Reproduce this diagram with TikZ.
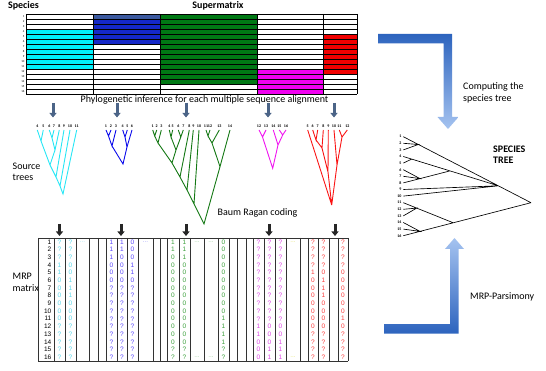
\documentclass[tikz,border=0pt]{standalone}
\usepackage{fontspec}
\setmainfont{Carlito}
\newfontfamily\cellfont{Liberation Sans}
\usetikzlibrary{arrows.meta}

\definecolor{cyantree}{RGB}{40,230,245}
\definecolor{bluetree}{RGB}{10,10,235}
\definecolor{greentree}{RGB}{20,120,20}
\definecolor{magtree}{RGB}{240,20,240}
\definecolor{redtree}{RGB}{250,20,20}
\definecolor{cyanblock}{RGB}{0,240,250}
\definecolor{blueblock}{RGB}{20,40,200}
\definecolor{steelblock}{RGB}{60,90,160}
\definecolor{greenblock}{RGB}{0,120,20}
\definecolor{magblock}{RGB}{240,0,240}
\definecolor{redblock}{RGB}{240,0,0}
\definecolor{cyandigit}{RGB}{90,215,235}
\definecolor{bluedigit}{RGB}{90,70,250}
\definecolor{greendigit}{RGB}{60,160,60}
\definecolor{magdigit}{RGB}{220,70,230}
\definecolor{reddigit}{RGB}{250,60,60}
\definecolor{cyandots}{RGB}{170,230,245}
\definecolor{bluedots}{RGB}{160,160,250}
\definecolor{greendots}{RGB}{160,210,160}
\definecolor{yellowdots}{RGB}{230,230,120}
\definecolor{arrowdark}{RGB}{45,100,190}
\definecolor{arrowlight}{RGB}{165,195,240}
\definecolor{smallarrow}{RGB}{75,100,135}

\tikzset{
  title/.style={font=\fontsize{10}{11.5}\selectfont\bfseries,inner sep=0pt,align=left},
  caption/.style={font=\fontsize{10}{11.5}\selectfont,inner sep=0pt,align=left},
  leaf/.style={font=\fontsize{4}{4}\selectfont\bfseries,inner sep=0pt},
  rowlab/.style={font=\fontsize{3}{3}\selectfont,inner sep=0pt,anchor=east},
  cell/.style={font=\cellfont\fontsize{6.5}{7}\selectfont,inner sep=0pt},
  branch/.style={line width=0.9pt},
  sbranch/.style={line width=0.65pt},
  gridline/.style={line width=0.55pt,draw=black!80},
  down/.style={line width=3pt,-{Triangle[width=7pt,length=4.5pt]}},
}

% one column of the MRP matrix: name, x, colour, values
\newcommand{\mrpcolumn}[4]{%
  \foreach \v [count=\r] in {#4}
    \node[cell,text=#3] (#1-\r) at (#2,{234.15+7.69*\r}) {\v};}

\begin{document}
\begin{tikzpicture}[x=1pt,y=-1pt]
\useasboundingbox (0,0) rectangle (546,371);

% titles
\node[title] (species) at (23.5,6) {Species};
\node[title] (supermatrix) at (218,6) {Supermatrix};
\node[caption] (phylo) at (204.5,100) {Phylogenetic inference for each multiple sequence alignment};
\node[caption,anchor=west] (source) at (12.5,171.6) {Source\\trees};
\node[caption] (baum) at (257.5,213.3) {Baum Ragan coding};
\node[caption,anchor=west] (mrp) at (12.5,282.5) {MRP\\matrix};
\node[caption,anchor=west] (computing) at (463,92.8) {Computing the\\species tree};
\node[title,anchor=west] (sptree) at (493,154.5) {SPECIES\\TREE};
\node[caption,anchor=west] (parsimony) at (470,296.7) {MRP-Parsimony};

% supermatrix
\fill[cyanblock] (26,29) rectangle (93,69);
\fill[blueblock] (93,14) rectangle (160,44);
\fill[steelblock] (93,14) rectangle (160,19);
\fill[greenblock] (160,14) rectangle (257,84);
\fill[magblock] (257,69) rectangle (323,94);
\fill[redblock] (323,34) rectangle (357,74);
\foreach \i in {0,...,16}
  \draw[line width=0.7pt] (26,{14+5*\i}) -- (357,{14+5*\i});
\foreach \x in {26,93,160,257,323,357}
  \draw[line width=0.7pt] (\x,14) -- (\x,94);
\foreach \i in {1,...,16}
  \node[rowlab] (sm\i) at (24.5,{11.5+5*\i}) {\i};

% arrows down to the source trees
\foreach \x [count=\k] in {53,117,186,268,334}{
  \coordinate (ta\k) at (\x,103);
  \coordinate (tb\k) at (\x,117.5);
  \draw[down,smallarrow] (ta\k) -- (tb\k);
}

% cyan source tree
\foreach \n/\x in {4/37.3,5/43.3,6/49.3,7/54,8/59.3,9/64,10/70,11/76.7}{
  \node[leaf] (cl\n) at (\x,126.5) {\n};
  \coordinate (ct\n) at (\x,130);
}
\coordinate (c45) at (41,141);
\coordinate (c67) at (52,138);
\coordinate (c68) at (55,150);
\coordinate (c48) at (50,165);
\coordinate (c49) at (56,177);
\coordinate (c410) at (60,186);
\coordinate (croot) at (63,194);
\draw[branch,cyantree] (ct4)--(c45)--(ct5) (ct6)--(c67)--(ct7) (c67)--(c68)--(ct8)
  (c45)--(c48)--(c68) (c48)--(c49)--(ct9) (c49)--(c410)--(ct10) (c410)--(croot)--(ct11);

% blue source tree
\foreach \n/\x in {1/106,2/111,3/116,4/122.7,5/127.3,6/132}{
  \node[leaf] (bl\n) at (\x,126.5) {\n};
  \coordinate (bt\n) at (\x,130);
}
\coordinate (b12) at (108.5,136);
\coordinate (b13) at (112,146);
\coordinate (b45) at (125,137);
\coordinate (b46) at (127,147);
\coordinate (broot) at (123,164);
\draw[branch,bluetree] (bt1)--(b12)--(bt2) (b12)--(b13)--(bt3) (bt4)--(b45)--(bt5)
  (b45)--(b46)--(bt6) (b13)--(broot)--(b46);

% green source tree
\foreach \n/\x in {1/152.7,2/156.7,3/161.3,4/169.3,5/172.7,6/178.3,7/183.3,8/189.3,9/193.3,10/199,11/206,12/210,13/219.3,14/230}{
  \node[leaf] (gl\n) at (\x,126.5) {\n};
  \coordinate (gt\n) at (\x,130);
}
\coordinate (g12) at (154.7,136);
\coordinate (g13) at (158,143);
\coordinate (g45) at (171,137);
\coordinate (g67) at (180.8,137);
\coordinate (g47) at (176,150);
\coordinate (g17) at (172,163);
\coordinate (g18) at (180,177);
\coordinate (g19) at (187,190);
\coordinate (g110) at (194,204);
\coordinate (g1112) at (208,136);
\coordinate (g1113) at (212,143);
\coordinate (g1114) at (220,166.7);
\coordinate (groot) at (204,224);
\draw[branch,greentree] (gt1)--(g12)--(gt2) (g12)--(g13)--(gt3) (gt4)--(g45)--(gt5)
  (gt6)--(g67)--(gt7) (g45)--(g47)--(g67) (g13)--(g17)--(g47) (g17)--(g18)--(gt8)
  (g18)--(g19)--(gt9) (g19)--(g110)--(gt10) (gt11)--(g1112)--(gt12)
  (g1112)--(g1113)--(gt13) (g1113)--(g1114)--(gt14) (g110)--(groot)--(g1114);

% magenta source tree
\foreach \n/\x in {12/259,13/266,14/273.3,15/279.3,16/286}{
  \node[leaf] (ml\n) at (\x,126.5) {\n};
  \coordinate (mt\n) at (\x,130);
}
\coordinate (m1213) at (262.5,137);
\coordinate (m1516) at (282.7,135);
\coordinate (m1416) at (278,145);
\coordinate (mroot) at (272.7,168.3);
\draw[branch,magtree] (mt12)--(m1213)--(mt13) (mt15)--(m1516)--(mt16)
  (mt14)--(m1416)--(m1516) (m1213)--(mroot)--(m1416);

% red source tree
\foreach \n/\x in {5/307.7,6/312.7,7/317.7,8/323.3,9/328.3,10/334,11/339.3,12/347.3}{
  \node[leaf] (rl\n) at (\x,126.5) {\n};
  \coordinate (rt\n) at (\x,130);
}
\coordinate (r67) at (316,140);
\coordinate (r68) at (322,148);
\coordinate (r69) at (328,172);
\coordinate (r1112) at (342,137);
\coordinate (r1012) at (337,165);
\coordinate (rroot) at (331.7,205);
\draw[branch,redtree] (rt6)--(r67)--(rt7) (r67)--(r68)--(rt8) (r68)--(r69)--(rt9)
  (rt11)--(r1112)--(rt12) (rt10)--(r1012)--(r1112) (rt5)--(rroot)--(r69) (rroot)--(r1012);

% arrows down to the MRP matrix
\foreach \x [count=\k] in {59.5,121,186,269,335}{
  \coordinate (ma\k) at (\x,224);
  \coordinate (mb\k) at (\x,236);
  \draw[down,black!85] (ma\k) -- (mb\k);
}

% MRP matrix
\foreach \x in {38,54,65,76,89,98,106,117,127,138,153,160,167,179,190,204,218,229,237,246,253,264,275,286,300,308,318,329,338,348}
  \draw[gridline] (\x,238) -- (\x,361);
\draw[gridline] (38,238) -- (348,238) (38,361) -- (348,361);
\foreach \r in {1,...,16}
  \node[cell,anchor=east] (row\r) at (51.5,{234.15+7.69*\r}) {\r};
\mrpcolumn{cy1}{59.5}{cyandigit}{?,?,?,1,1,0,0,0,0,0,0,?,?,?,?,?}
\mrpcolumn{cy2}{70.5}{cyandigit}{?,?,?,0,0,1,1,1,0,0,0,?,?,?,?,?}
\mrpcolumn{bl1}{111.5}{bluedigit}{1,1,1,0,0,0,?,?,?,?,?,?,?,?,?,?}
\mrpcolumn{bl2}{122}{bluedigit}{1,1,0,0,0,0,?,?,?,?,?,?,?,?,?,?}
\mrpcolumn{bl3}{132.5}{bluedigit}{0,0,0,1,1,0,?,?,?,?,?,?,?,?,?,?}
\mrpcolumn{gr1}{173}{greendigit}{1,1,0,0,0,0,0,0,0,0,0,0,0,0,?,?}
\mrpcolumn{gr2}{184.5}{greendigit}{1,1,1,0,0,0,0,0,0,0,0,0,0,0,?,?}
\mrpcolumn{gr3}{223.5}{greendigit}{0,0,0,0,0,0,0,0,0,0,1,1,1,1,?,?}
\mrpcolumn{mg1}{258.5}{magdigit}{?,?,?,?,?,?,?,?,?,?,?,1,1,0,0,0}
\mrpcolumn{mg2}{269.5}{magdigit}{?,?,?,?,?,?,?,?,?,?,?,0,0,0,1,1}
\mrpcolumn{mg3}{280.5}{magdigit}{?,?,?,?,?,?,?,?,?,?,?,0,0,1,1,1}
\mrpcolumn{rd1}{313}{reddigit}{?,?,?,?,1,0,0,0,0,0,0,0,?,?,?,?}
\mrpcolumn{rd2}{323.5}{reddigit}{?,?,?,?,0,1,1,1,0,0,0,0,?,?,?,?}
\mrpcolumn{rd3}{343}{reddigit}{?,?,?,?,0,0,0,0,0,0,1,0,?,?,?,?}
\node[cell,text=cyandots] (cydots) at (82.5,241.8) {...};
\node[cell,text=bluedots] (bldots) at (145.5,241.8) {...};
\node[cell,text=greendots] (grdots1) at (197,241.8) {...};
\node[cell,text=greendots] (grdots2) at (211,241.8) {...};
\node[cell,text=greendots] (grdots3) at (197,357.2) {...};
\node[cell,text=greendots] (grdots4) at (211,357.2) {...};
\node[cell,text=yellowdots] (yedots1) at (293,241.8) {...};
\node[cell,text=yellowdots] (yedots2) at (293,357.2) {...};

% species tree
\foreach \i in {1,...,16}{
  \coordinate (s\i) at (403.3,{136.7+6.6*(\i-1)});
  \node[leaf,anchor=east] (sl\i) at (401.5,{136.7+6.6*(\i-1)}) {\i};
}
\coordinate (sr) at (531,202.7);
\coordinate (sA) at (418.3,144.5);
\coordinate (sC) at (498.3,185.8);
\coordinate (sD) at (411.7,159.1);
\coordinate (sE) at (420,178.6);
\coordinate (sF) at (450,170.9);
\coordinate (sH) at (453.3,222.8);
\coordinate (sI) at (416.7,208.1);
\coordinate (sJ) at (420,231.4);
\draw[sbranch] (s1)--(sr) (s2)--(sA)--(s3) (s4)--(sC) (s5)--(sD) (s6)--(sE)--(s7)
  (s8)--(sF) (s9)--(sC)--(s10) (s11)--(sH) (s12)--(sI)--(s13) (s14)--(sJ)--(s15) (s16)--(sr);

% big arrows
\shade[top color=arrowdark,bottom color=arrowlight] (378,34) -- (452,34) -- (452,117)
  -- (458.5,117) -- (448,129) -- (437.5,117) -- (443.5,117) -- (443.5,43.5) -- (378,43.5) -- cycle;
\shade[top color=arrowlight,bottom color=arrowdark] (384,324) -- (450,324) -- (450,249)
  -- (445,249) -- (454.5,238) -- (464,249) -- (458.5,249) -- (458.5,333.5) -- (384,333.5) -- cycle;
\end{tikzpicture}
\end{document}
